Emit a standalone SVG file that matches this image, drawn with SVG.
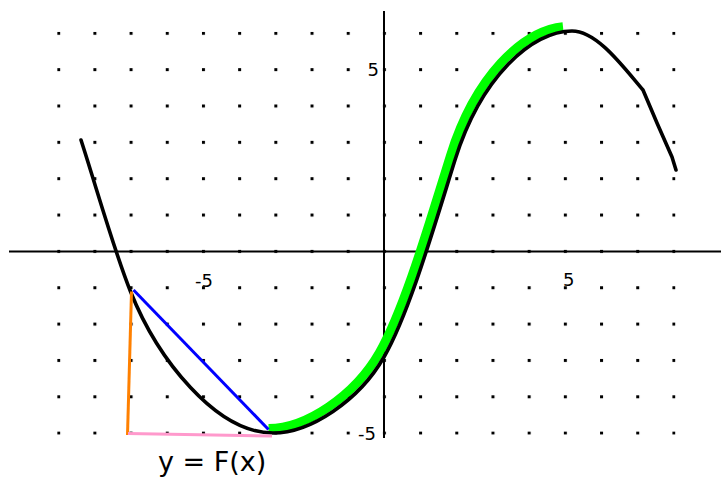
<svg xmlns="http://www.w3.org/2000/svg" width="721" height="477" viewBox="0 0 721 477">
  <defs>
    <pattern id="dots" patternUnits="userSpaceOnUse" x="57.2" y="31.8" width="36.19" height="36.35">
      <rect x="0" y="0" width="3" height="3" fill="#000"/>
    </pattern>
    <style>
      .axis { stroke:#000; stroke-width:2; fill:none; }
      .curve { fill:none; stroke-linejoin:round; }
      .lbl { font-family:"DejaVu Sans", sans-serif; fill:#000; }
    </style>
  </defs>
  <rect width="721" height="477" fill="#fff"/>
  <g id="grid">
    <rect x="57.2" y="31.8" width="618.3" height="402.9" fill="url(#dots)"/>
  </g>
  <g id="axes">
    <line class="axis" x1="9" y1="251.5" x2="721" y2="251.5"/>
    <line class="axis" x1="384" y1="11" x2="384" y2="438"/>
    <text class="lbl" x="379" y="76" font-size="18" text-anchor="end">5</text>
    <text class="lbl" x="195" y="287" font-size="18">-5</text>
    <text class="lbl" x="563" y="286" font-size="18">5</text>
    <text class="lbl" x="358" y="440" font-size="18">-5</text>
  </g>
  <g id="highlight">
    <path class="curve" stroke="#00ff00" stroke-width="9" stroke-linecap="butt" transform="translate(-4.5,-4.5)"
      d="M273,433 C310,433 359,400.75 384,357 C409,313.25 433,230.4 455,160 C479.7,81 526.96,35.68 567.5,31.3"/>
  </g>
  <g id="function-curve">
    <path class="curve" stroke="#000" stroke-width="3.6" stroke-linecap="round"
      d="M81,140 C97.5,191.2 114,250.25 130.5,291.5 C157.5,359 216,433 273,433 C310,433 359,400.75 384,357 C409,313.25 433,230.4 455,160 C481,76.8 532,31 572,31 C597,31 623,66.6 643,90 L657,123 L672,157 L676,170"/>
  </g>
  <g id="connectors">
    <line x1="133.5" y1="290" x2="268.5" y2="429.5" stroke="#0000ff" stroke-width="3"/>
    <line x1="131.5" y1="291.5" x2="127.5" y2="435" stroke="#ff8000" stroke-width="3"/>
    <line x1="128" y1="433.5" x2="272" y2="436" stroke="#ff99cc" stroke-width="3"/>
  </g>
  <g id="caption">
    <text class="lbl" x="158" y="470.5" font-size="27">y = F(x)</text>
  </g>
</svg>
